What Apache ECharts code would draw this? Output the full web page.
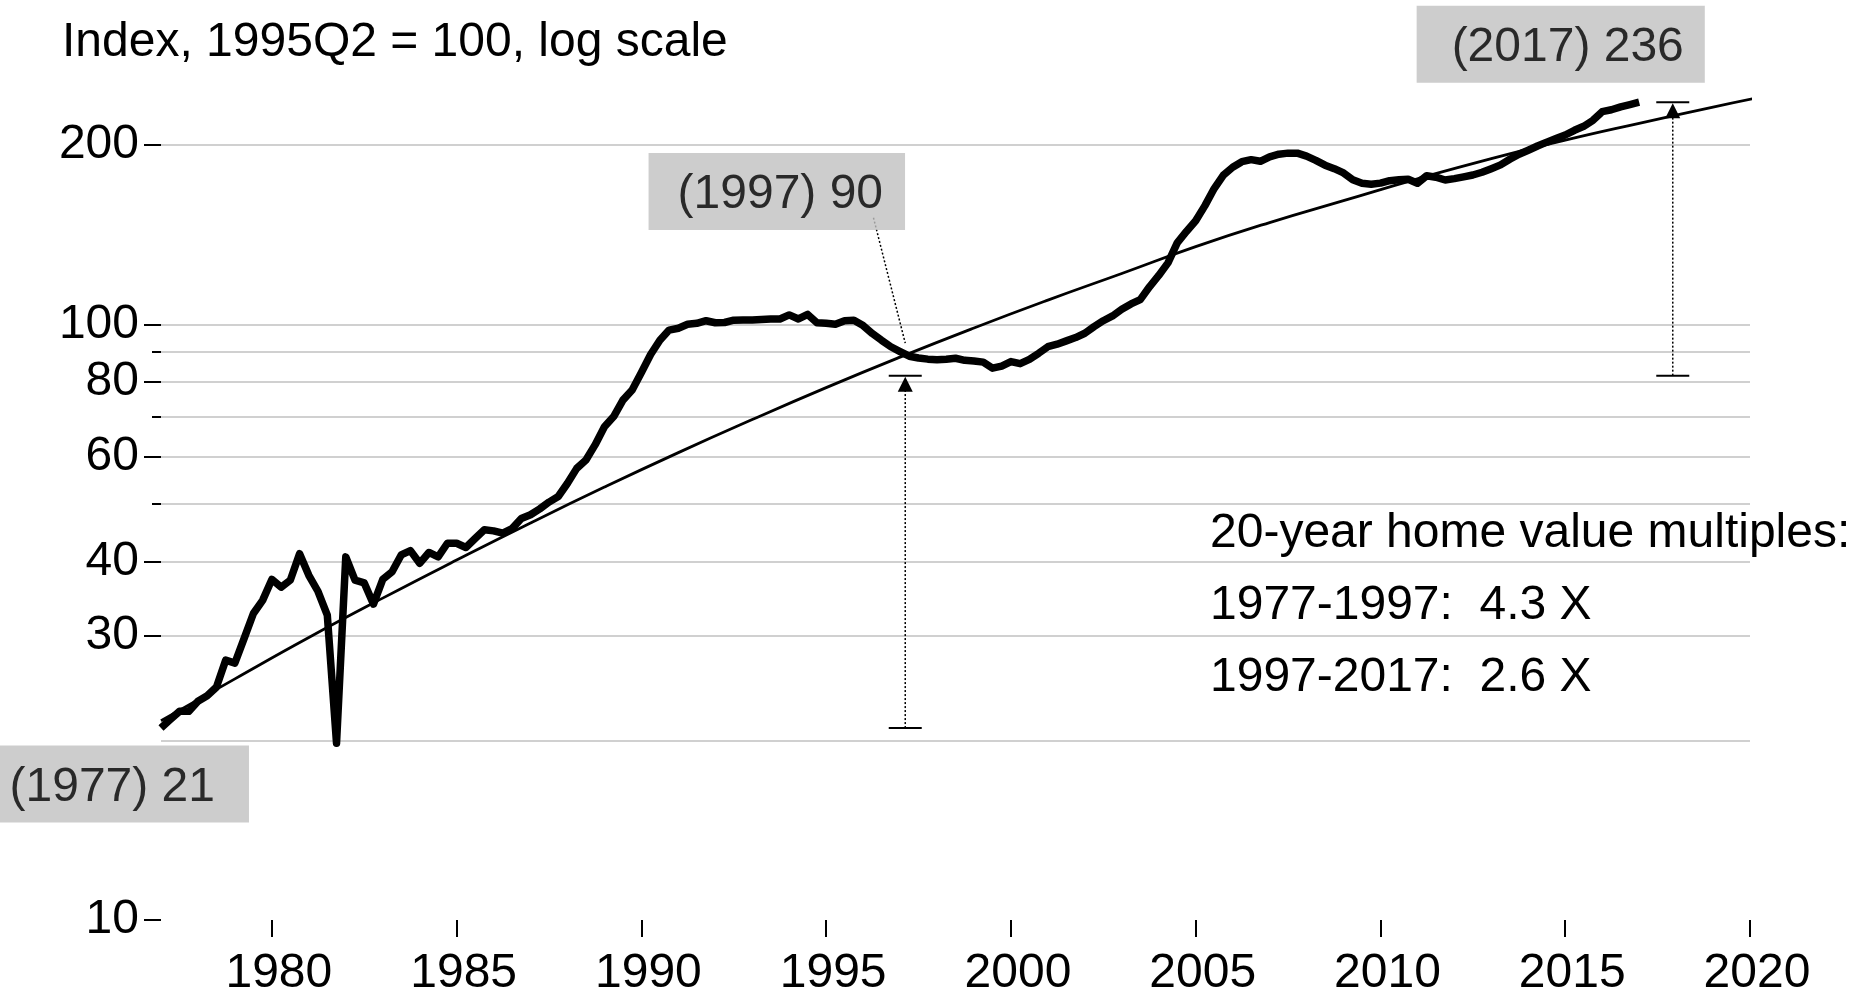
<!DOCTYPE html>
<html>
<head>
<meta charset="utf-8">
<title>Home value index, log scale</title>
<script src="https://cdn.jsdelivr.net/npm/echarts@6/dist/echarts.min.js"></script>
<style>
  html, body { margin: 0; padding: 0; background: #ffffff; }
  #chart { width: 1873px; height: 992px; }
</style>
</head>
<body>
<div id="chart"></div>
<script>
// Quarterly home value index (1995Q2 = 100), 1977Q1 through 2017Q1
const startYear = 1977;
const hpi = [
  21.0, 21.7, 22.4, 22.4,     // 1977
  23.3, 23.8, 24.6, 27.3,     // 1978
  27.0, 29.7, 32.7, 34.4,     // 1979
  37.3, 36.2, 37.2, 41.2,     // 1980
  37.9, 35.6, 32.5, 19.8,     // 1981
  40.7, 37.2, 36.8, 33.9,     // 1982
  37.3, 38.4, 41.0, 41.7,     // 1983
  39.7, 41.4, 40.7, 42.9,     // 1984
  42.9, 42.2, 43.7, 45.2,     // 1985
  45.0, 44.6, 45.4, 47.2,     // 1986
  47.9, 49.0, 50.3, 51.4,     // 1987
  54.1, 57.3, 59.2, 62.8,     // 1988
  67.3, 70.0, 74.6, 77.6,     // 1989
  83.0, 89.0, 94.0, 97.8,     // 1990
  98.5, 100.0, 100.4, 101.4,  // 1991
  100.6, 100.7, 101.6, 101.7, // 1992
  101.7, 101.9, 102.1, 102.1, // 1993
  103.7, 102.1, 103.9, 100.6, // 1994
  100.4, 100.0, 101.4, 101.6, // 1995
  99.5, 96.5, 94.0, 91.7,     // 1996
  90, 88.4, 87.8, 87.4,       // 1997
  87.2, 87.4, 87.7, 87.0,     // 1998
  86.8, 86.4, 84.4, 85.1,     // 1999
  86.6, 85.9, 87.3, 89.4,     // 2000
  91.7, 92.6, 93.8, 95.0,     // 2001
  96.6, 99.1, 101.4, 103.3,   // 2002
  106.0, 108.2, 110.0, 115.6, // 2003
  120.8, 126.8, 137.0, 143.2, // 2004
  149.2, 158.2, 169.0, 178.0, // 2005
  183.5, 187.5, 189.0, 187.8, // 2006
  191.1, 193.0, 193.8, 193.8, // 2007
  191.6, 188.5, 185.0, 182.5, // 2008
  179.5, 174.8, 172.5, 171.9, // 2009
  172.6, 174.2, 174.8, 175.2, // 2010
  172.5, 177.6, 176.6, 174.7, // 2011
  175.6, 176.8, 178.1, 180.0, // 2012
  182.5, 185.2, 189.3, 193.0, // 2013
  196.0, 199.2, 202.2, 205.0, // 2014
  207.9, 211.7, 215.0, 220.0, // 2015
  227.5, 229.2, 231.8, 233.8, // 2016
  236                         // 2017
];
const periods = hpi.map((_, i) => startYear + i / 4);

// Long-run trend line
const trendYears  = [1977, 1979, 1981, 1983, 1985, 1987, 1989, 1991, 1993, 1995, 1997, 1999,
                     2001, 2003, 2005, 2007, 2009, 2011, 2013, 2015, 2017, 2019, 2020.35];
const trendValues = [21.6, 25.4, 29.8, 34.7, 40.2, 46.4, 53.3, 60.9, 69.2, 78.3, 88.1, 98.6,
                     109.8, 121.7, 135.0, 148.2, 161.3, 175.5, 189.8, 203.8, 217.5, 231.6, 241.1];

// Axis ticks and reference lines
const xTickYears = [1980, 1985, 1990, 1995, 2000, 2005, 2010, 2015, 2020];
const yLabelValues = [10, 30, 40, 60, 80, 100, 200];
const yMinorTickValues = [50, 70, 90];
const gridValues = [20, 30, 40, 50, 60, 70, 80, 90, 100, 200];

// Called-out years and the two 20-year spans: [year, low, high]
const calloutYears = [1977, 1997, 2017];
const spanBrackets = [[1997.14, 21, 82], [2017.91, 82, 236]];
const leaderLine = [[1996.28, 151], [1997.14, 93]];

const FONT = "'Liberation Sans', Arial, Helvetica, sans-serif";
const idx = y => periods.indexOf(y);

const multiple = (a, b) => (hpi[idx(b)] / hpi[idx(a)]).toFixed(1);
const multiplesText = [
  '20-year home value multiples:',
  `1977-1997:  ${multiple(1977, 1997)} X`,
  `1997-2017:  ${multiple(1997, 2017)} X`
].join('\n');

// Placement of the grey callout boxes relative to their points
const calloutStyle = {
  1977: { position: [-181, 18],  padding: [18, 34, 11, 30] },
  1997: { position: [-251, -198], padding: [18, 22, 11, 29] },
  2017: { position: [-222, -96],  padding: [18, 21, 11, 35] }
};

const calloutData = calloutYears.map(y => {
  const i = idx(y);
  const s = calloutStyle[y];
  return {
    value: [periods[i], hpi[i]],
    label: {
      show: true,
      formatter: `(${y}) ${hpi[i]}`,
      position: s.position,
      align: 'left',
      verticalAlign: 'top',
      padding: s.padding,
      backgroundColor: '#c0c0c0',
      color: '#000',
      fontSize: 48,
      lineHeight: 48,
      fontFamily: FONT
    }
  };
});

const chart = echarts.init(document.getElementById('chart'), null, { renderer: 'canvas' });

chart.setOption({
  animation: false,
  backgroundColor: '#ffffff',
  textStyle: { fontFamily: FONT, color: '#000' },
  title: [
    {
      text: 'Index, 1995Q2 = 100, log scale',
      left: 62, top: 18.5, padding: 0,
      textStyle: { fontSize: 48, fontWeight: 'normal', color: '#000', fontFamily: FONT, lineHeight: 48 }
    },
    {
      text: multiplesText,
      left: 1210, top: 497.5, padding: 0,
      textStyle: { fontSize: 48, fontWeight: 'normal', color: '#000', fontFamily: FONT, lineHeight: 72 }
    }
  ],
  grid: {
    left: 161, right: 123, top: 40.1, bottom: 72,
    containLabel: false,
    outerBoundsMode: 'none'
  },
  xAxis: {
    type: 'value',
    min: 1977, max: 2020,
    axisLine: { show: false },
    splitLine: { show: false },
    axisTick: {
      show: true,
      customValues: xTickYears,
      length: 17,
      lineStyle: { color: '#000', width: 2 }
    },
    axisLabel: {
      show: true,
      customValues: xTickYears,
      formatter: v => String(v),
      fontSize: 48,
      color: '#000',
      fontFamily: FONT,
      margin: 29.5,
      padding: [0, 0, 0, 14]
    }
  },
  yAxis: [
    {
      type: 'log', logBase: 10, min: 10, max: 300,
      axisLine: { show: false },
      splitLine: { show: false },
      minorTick: { show: false },
      axisTick: {
        show: true,
        customValues: yLabelValues,
        length: 17,
        lineStyle: { color: '#000', width: 2 }
      },
      axisLabel: {
        show: true,
        customValues: yLabelValues,
        formatter: v => String(v),
        fontSize: 48,
        color: '#000',
        fontFamily: FONT,
        margin: 22,
        padding: [7, 0, 0, 0]
      }
    },
    {
      type: 'log', logBase: 10, min: 10, max: 300,
      position: 'left', offset: 0,
      axisLine: { show: false },
      splitLine: { show: false },
      axisLabel: { show: false },
      axisTick: {
        show: true,
        customValues: yMinorTickValues,
        length: 9,
        lineStyle: { color: '#000', width: 2 }
      }
    }
  ],
  series: [
    {
      // horizontal reference lines
      name: 'grid',
      type: 'line',
      data: [[periods[0], hpi[0]]],
      showSymbol: false,
      lineStyle: { width: 0 },
      silent: true,
      z: 1,
      markLine: {
        z: 1,
        silent: true,
        symbol: ['none', 'none'],
        label: { show: false },
        lineStyle: { color: '#d0d0d0', width: 2, type: 'solid' },
        emphasis: { disabled: true },
        data: gridValues.map(v => ({ yAxis: v }))
      }
    },
    {
      name: 'Home value index',
      type: 'line',
      data: periods.map((p, i) => [p, hpi[i]]),
      showSymbol: false,
      silent: true,
      z: 2,
      lineStyle: { color: '#000', width: 7.5, cap: 'butt', join: 'round' }
    },
    {
      name: 'Trend',
      type: 'line',
      data: trendYears.map((y, i) => [y, trendValues[i]]),
      smooth: true,
      showSymbol: false,
      silent: true,
      clip: false,
      z: 3,
      lineStyle: { color: '#000', width: 2.8 }
    },
    {
      name: 'Leader',
      type: 'line',
      data: leaderLine,
      showSymbol: false,
      silent: true,
      clip: false,
      z: 3,
      lineStyle: { color: '#000', width: 1.5, type: [2, 2] }
    },
    {
      name: 'Spans',
      type: 'custom',
      silent: true,
      z: 3,
      data: spanBrackets,
      encode: { x: 0, y: [1, 2] },
      renderItem: (params, api) => {
        const x = api.value(0);
        const lo = api.coord([x, api.value(1)]);
        const hi = api.coord([x, api.value(2)]);
        const half = 16.5, aw = 7.5, ah = 15;
        return {
          type: 'group',
          children: [
            { type: 'line', shape: { x1: lo[0], y1: lo[1], x2: hi[0], y2: hi[1] + ah },
              style: { stroke: '#000', lineWidth: 1.5, lineDash: [2, 2] } },
            { type: 'line', shape: { x1: lo[0] - half, y1: lo[1], x2: lo[0] + half, y2: lo[1] },
              style: { stroke: '#000', lineWidth: 2 } },
            { type: 'line', shape: { x1: hi[0] - half, y1: hi[1], x2: hi[0] + half, y2: hi[1] },
              style: { stroke: '#000', lineWidth: 2 } },
            { type: 'polygon',
              shape: { points: [[hi[0], hi[1] + 1], [hi[0] - aw, hi[1] + ah + 1], [hi[0] + aw, hi[1] + ah + 1]] },
              style: { fill: '#000' } }
          ]
        };
      }
    },
    {
      name: 'Callouts',
      type: 'scatter',
      data: calloutData,
      symbolSize: 1,
      itemStyle: { color: 'rgba(0,0,0,0)' },
      silent: true,
      clip: false,
      z: 4
    }
  ]
});
</script>
</body>
</html>
